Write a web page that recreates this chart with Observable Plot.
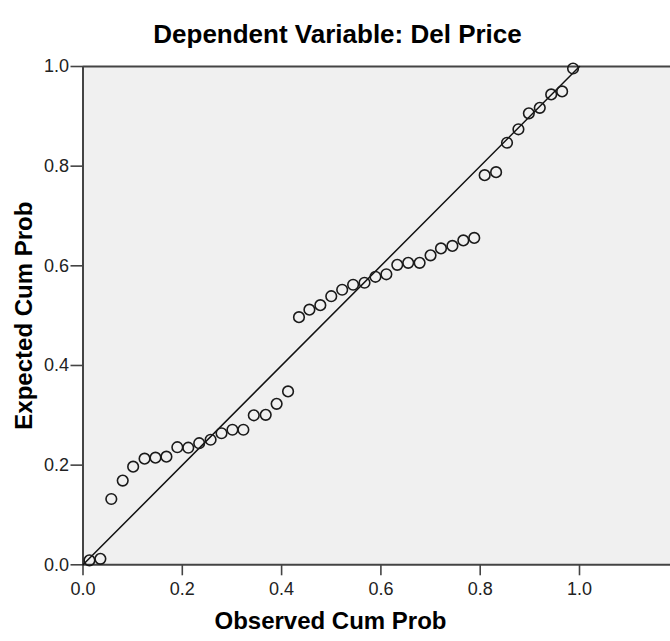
<!DOCTYPE html>
<html>
<head>
<meta charset="utf-8">
<script src="https://cdn.jsdelivr.net/npm/d3@7"></script>
<script src="https://cdn.jsdelivr.net/npm/@observablehq/plot@0.6"></script>
<style>
  html, body { margin: 0; padding: 0; background: #fff; }
  #chart { width: 670px; height: 641px; }
</style>
</head>
<body>
<div id="chart"></div>
<script>
// ---- data ----
const chartTitle = "Dependent Variable: Del Price";
const xLabel = "Observed Cum Prob";
const yLabel = "Expected Cum Prob";
const xTicks = [0, 0.2, 0.4, 0.6, 0.8, 1.0];
const yTicks = [0, 0.2, 0.4, 0.6, 0.8, 1.0];
const refLine = [0, 1];
const observed = [0.013,0.035,0.057,0.080,0.101,0.124,0.146,0.168,0.190,0.212,0.234,0.257,0.279,0.301,0.323,0.344,0.368,0.390,0.413,0.435,0.456,0.478,0.500,0.522,0.544,0.567,0.589,0.611,0.633,0.655,0.678,0.700,0.721,0.744,0.766,0.788,0.809,0.832,0.854,0.877,0.898,0.920,0.943,0.965,0.987];
const expected = [0.009,0.012,0.132,0.169,0.197,0.213,0.215,0.217,0.236,0.235,0.244,0.251,0.264,0.271,0.271,0.300,0.301,0.323,0.348,0.497,0.512,0.521,0.539,0.552,0.562,0.566,0.578,0.583,0.602,0.606,0.606,0.621,0.635,0.640,0.651,0.656,0.782,0.788,0.847,0.874,0.906,0.917,0.944,0.950,0.996];

const points = observed.map((o, i) => ({o, e: expected[i]}));

const W = 670, H = 641;
const mL = 82.5, mR = 0, mT = 66, mB = H - 564.3;
const xMax = (W - mL - mR) / 496.5;

const font = "'Liberation Sans', Arial, sans-serif";
const axisColor = "#444";

const chart = Plot.plot({
  width: W,
  height: H,
  marginLeft: mL,
  marginRight: mR,
  marginTop: mT,
  marginBottom: mB,
  style: {fontFamily: font, fontSize: "18px", background: "#fff", color: "#222", overflow: "visible"},
  x: {domain: [0, xMax], label: null},
  y: {domain: [0, 1], label: null},
  marks: [
    Plot.frame({fill: "#f0f0f0", stroke: null}),
    Plot.axisX(xTicks, {tickSize: 11, tickPadding: 6.5, tickFormat: d3.format(".1f"), stroke: axisColor, strokeWidth: 1.6, fill: "#222", fontSize: 18}),
    Plot.axisY(yTicks, {tickSize: 12, tickPadding: 2, tickFormat: d3.format(".1f"), stroke: axisColor, strokeWidth: 1.6, fill: "#222", fontSize: 18}),
    Plot.ruleY([yTicks[0]], {stroke: axisColor, strokeWidth: 2}),
    Plot.ruleY([yTicks[yTicks.length - 1]], {stroke: axisColor, strokeWidth: 2}),
    Plot.ruleX([xTicks[0]], {stroke: axisColor, strokeWidth: 2}),
    Plot.line(refLine, {x: d => d, y: d => d, stroke: "#111", strokeWidth: 1.5}),
    Plot.dot(points, {x: "o", y: "e", r: 5.3, stroke: "#1a1a1a", strokeWidth: 1.6, fill: "none"}),
    Plot.text([chartTitle], {frameAnchor: "top-left", dx: 337 - mL, dy: 24 - mT, fontSize: 26, fontWeight: "bold", fill: "#000", textAnchor: "middle"}),
    Plot.text([xLabel], {frameAnchor: "bottom-left", dx: 330 - mL, dy: 628 - 564.3, fontSize: 24, fontWeight: "bold", fill: "#000", textAnchor: "middle"}),
    Plot.text([yLabel], {frameAnchor: "left", dx: 24 - mL, dy: 0, rotate: -90, fontSize: 24, fontWeight: "bold", fill: "#000", textAnchor: "middle"})
  ]
});
document.getElementById("chart").appendChild(chart);
</script>
</body>
</html>
